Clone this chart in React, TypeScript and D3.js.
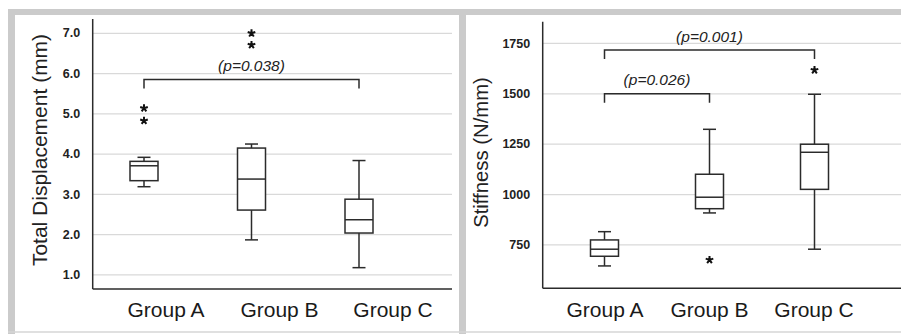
import * as d3 from 'd3';

const groups = ['Group A', 'Group B', 'Group C'];

// Total displacement (mm): box stats per group
const dispStats = [
  { lo: 3.19, q1: 3.34, med: 3.71, q3: 3.82, hi: 3.92 },
  { lo: 1.87, q1: 2.61, med: 3.38, q3: 4.15, hi: 4.25 },
  { lo: 1.18, q1: 2.04, med: 2.37, q3: 2.88, hi: 3.84 },
];
const dispOutliers = [
  { group: 'Group A', value: 5.14 },
  { group: 'Group A', value: 4.83 },
  { group: 'Group B', value: 7.0 },
  { group: 'Group B', value: 6.71 },
];
const dispTicks = [1, 2, 3, 4, 5, 6, 7];
const dispBrackets = [{ from: 'Group A', to: 'Group C', value: 5.85, label: '(p=0.038)' }];

// Stiffness (N/mm): box stats per group
const stiffStats = [
  { lo: 646, q1: 694, med: 729, q3: 775, hi: 816 },
  { lo: 909, q1: 930, med: 987, q3: 1101, hi: 1324 },
  { lo: 729, q1: 1026, med: 1210, q3: 1250, hi: 1498 },
];
const stiffOutliers = [
  { group: 'Group B', value: 676 },
  { group: 'Group C', value: 1618 },
];
const stiffTicks = [750, 1000, 1250, 1500, 1750];
const stiffBrackets = [
  { from: 'Group A', to: 'Group C', value: 1717, label: '(p=0.001)' },
  { from: 'Group A', to: 'Group B', value: 1500, label: '(p=0.026)' },
];

const FONT = 'Arial, "Liberation Sans", Helvetica, sans-serif';
const INK = '#2b2b2b';
const GRID = '#d9d9d9';
const FRAME = '#cbcbcb';

// five-armed asterisk used for the outlier marks
const asterisk: d3.SymbolType = {
  draw(context, size) {
    const r = Math.sqrt(size) / 2;
    for (let k = 0; k < 5; k++) {
      const a = -Math.PI / 2 + (k * 2 * Math.PI) / 5;
      context.moveTo(0, 0);
      context.lineTo(r * Math.cos(a), r * Math.sin(a));
    }
  },
};
const starPath = d3.symbol().type(asterisk).size(64)() ?? '';

interface Stat { lo: number; q1: number; med: number; q3: number; hi: number }
interface PanelProps {
  title: string;
  titleX: number;
  titleY: number;
  titleSize: number;
  axisX: number;
  right: number;
  top: number;
  bottom: number;
  domain: [number, number];
  ticks: number[];
  tickFmt: (v: number) => string;
  boxRange: [number, number];
  labelRange: [number, number];
  stats: Stat[];
  outliers: { group: string; value: number }[];
  brackets: { from: string; to: string; value: number; label: string }[];
}

function Panel(p: PanelProps) {
  const y = d3.scaleLinear().domain(p.domain).range([p.bottom, p.top]);
  const xBox = d3.scalePoint<string>().domain(groups).range(p.boxRange);
  const xLab = d3.scalePoint<string>().domain(groups).range(p.labelRange);
  const bw = 28;
  const cw = 13;

  return (
    <g>
      {/* gridlines */}
      {p.ticks.map((t) => (
        <line key={'g' + t} x1={p.axisX} x2={p.right} y1={y(t)} y2={y(t)} stroke={GRID} strokeWidth={1.2} />
      ))}
      {/* tick labels */}
      {p.ticks.map((t) => (
        <text key={'t' + t} x={p.axisX - 12.5} y={y(t) + 4.2} textAnchor="end" fontFamily={FONT} fontWeight="bold" fontSize={12.5} fill="#222">
          {p.tickFmt(t)}
        </text>
      ))}
      {/* axes */}
      <line x1={p.axisX} x2={p.axisX} y1={p.top} y2={p.bottom} stroke={INK} strokeWidth={1.5} />
      <line x1={p.axisX} x2={p.right} y1={p.bottom} y2={p.bottom} stroke={INK} strokeWidth={1.5} />
      {/* title */}
      <text transform={`translate(${p.titleX},${p.titleY}) rotate(-90)`} textAnchor="middle" fontFamily={FONT} fontSize={p.titleSize} fill="#222">
        {p.title}
      </text>
      {/* boxes */}
      {p.stats.map((s, i) => {
        const cx = xBox(groups[i]) ?? 0;
        return (
          <g key={'b' + i} stroke={INK} strokeWidth={1.5} fill="none">
            <line x1={cx} x2={cx} y1={y(s.hi)} y2={y(s.q3)} />
            <line x1={cx} x2={cx} y1={y(s.q1)} y2={y(s.lo)} />
            <line x1={cx - cw / 2} x2={cx + cw / 2} y1={y(s.hi)} y2={y(s.hi)} />
            <line x1={cx - cw / 2} x2={cx + cw / 2} y1={y(s.lo)} y2={y(s.lo)} />
            <rect x={cx - bw / 2} y={y(s.q3)} width={bw} height={y(s.q1) - y(s.q3)} fill="#fff" />
            <line x1={cx - bw / 2} x2={cx + bw / 2} y1={y(s.med)} y2={y(s.med)} />
          </g>
        );
      })}
      {/* outliers */}
      {p.outliers.map((o, i) => (
        <path
          key={'o' + i}
          d={starPath}
          transform={`translate(${xBox(o.group) ?? 0},${y(o.value)})`}
          fill="none"
          stroke="#111"
          strokeWidth={2}
          strokeLinecap="butt"
        />
      ))}
      {/* significance brackets */}
      {p.brackets.map((b, i) => {
        const x1 = xBox(b.from) ?? 0;
        const x2 = xBox(b.to) ?? 0;
        const yy = y(b.value);
        return (
          <g key={'k' + i}>
            <path d={`M${x1},${yy + 9}V${yy}H${x2}V${yy + 9}`} fill="none" stroke={INK} strokeWidth={1.5} />
            <text x={(x1 + x2) / 2} y={yy - 8.5} textAnchor="middle" fontFamily={FONT} fontStyle="italic" fontSize={15.5} fill="#222">
              {b.label}
            </text>
          </g>
        );
      })}
      {/* category labels */}
      {groups.map((g) => (
        <text key={'c' + g} x={xLab(g) ?? 0} y={316.5} textAnchor="middle" fontFamily={FONT} fontSize={21} fill="#1a1a1a">
          {g}
        </text>
      ))}
    </g>
  );
}

export default function App() {
  return (
    <svg width={901} height={334} style={{ position: 'absolute', left: 0, top: 0, background: '#fff' }}>
      {/* frame */}
      <rect x={8} y={9} width={893} height={6} fill={FRAME} />
      <rect x={8} y={9} width={7} height={325} fill={FRAME} />
      <rect x={459} y={9} width={7} height={325} fill={FRAME} />
      <line x1={8} x2={901} y1={332} y2={332} stroke="#d6d6d6" strokeWidth={1.5} />

      <Panel
        title="Total Displacement (mm)"
        titleX={46.7}
        titleY={150}
        titleSize={21}
        axisX={92.7}
        right={452}
        top={19}
        bottom={289}
        domain={[0.65, 7.355]}
        ticks={dispTicks}
        tickFmt={(v) => v.toFixed(1)}
        boxRange={[144, 359]}
        labelRange={[166, 393]}
        stats={dispStats}
        outliers={dispOutliers}
        brackets={dispBrackets}
      />
      <Panel
        title="Stiffness (N/mm)"
        titleX={487.5}
        titleY={152.5}
        titleSize={20.3}
        axisX={542.7}
        right={901}
        top={21.7}
        bottom={288.3}
        domain={[535, 1858]}
        ticks={stiffTicks}
        tickFmt={(v) => String(v)}
        boxRange={[604.5, 814.5]}
        labelRange={[605, 814]}
        stats={stiffStats}
        outliers={stiffOutliers}
        brackets={stiffBrackets}
      />
    </svg>
  );
}
